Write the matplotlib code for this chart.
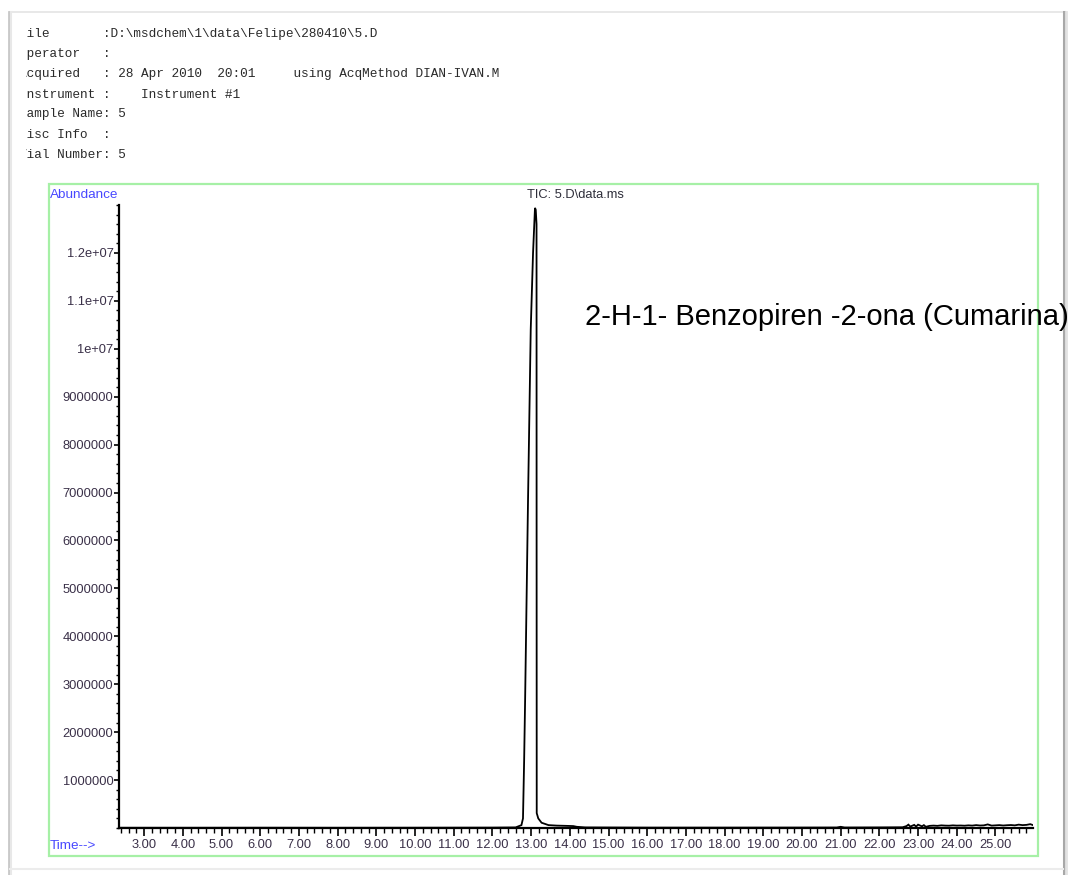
import matplotlib
matplotlib.use("Agg")
import matplotlib.pyplot as plt
from matplotlib import font_manager
from matplotlib.lines import Line2D
from matplotlib.patches import Rectangle
from matplotlib.ticker import FixedLocator, MultipleLocator, NullFormatter

# ---------------- data ----------------
header_lines = [
    "File       :D:\\msdchem\\1\\data\\Felipe\\280410\\5.D",
    "Operator   :",
    "Acquired   : 28 Apr 2010  20:01     using AcqMethod DIAN-IVAN.M",
    "Instrument :    Instrument #1",
    "Sample Name: 5",
    "Misc Info  :",
    "Vial Number: 5",
]

time_min = [2.35, 4.00, 6.00, 8.00, 10.00, 12.00, 12.60, 12.75, 12.79, 12.82,
            12.845, 12.92, 12.99, 13.05, 13.10, 13.12, 13.14, 13.142, 13.145, 13.185,
            13.27, 13.45, 13.66, 13.90, 14.09, 14.18, 14.40, 16.0, 18.0, 20.0,
            20.9, 21.0, 21.1, 22.0, 22.60, 22.70, 22.75, 22.80, 22.90, 22.95,
            23.00, 23.10, 23.15, 23.20, 23.30, 23.40, 23.50, 23.60, 23.70, 23.80,
            23.90, 24.00, 24.10, 24.20, 24.30, 24.40, 24.50, 24.60, 24.70, 24.80,
            24.90, 25.00, 25.10, 25.20, 25.30, 25.40, 25.50, 25.60, 25.70, 25.80,
            25.90, 25.97]
abundance = [5000, 5000, 6000, 5000, 6000, 8000, 12000, 60000, 200000, 1420000,
             2670000, 6830000, 10400000, 12000000, 12940000, 12900000, 12600000, 6000000, 310000, 200000,
             110000, 60000, 50000, 45000, 40000, 25000, 12000, 8000, 8000, 9000,
             10000, 25000, 10000, 12000, 15000, 40000, 70000, 30000, 65000, 30000,
             70000, 35000, 60000, 25000, 45000, 50000, 45000, 55000, 50000, 48000,
             55000, 50000, 52000, 48000, 55000, 50000, 60000, 52000, 55000, 75000,
             50000, 55000, 60000, 52000, 58000, 62000, 55000, 70000, 60000, 65000,
             80000, 60000]

x_major_ticks = list(range(3, 26))
y_tick_values = [1e6, 2e6, 3e6, 4e6, 5e6, 6e6, 7e6, 8e6, 9e6, 1e7, 1.1e7, 1.2e7]
y_tick_labels = ["1000000", "2000000", "3000000", "4000000", "5000000", "6000000",
                 "7000000", "8000000", "9000000", "1e+07", "1.1e+07", "1.2e+07"]

compound_label = "2-H-1- Benzopiren -2-ona (Cumarina)"
tic_title = "TIC: 5.D\\data.ms"

# ---------------- fonts ----------------
names = {f.name for f in font_manager.fontManager.ttflist}
sans = "Liberation Sans Narrow" if "Liberation Sans Narrow" in names else "Liberation Sans"
narrow = sans == "Liberation Sans Narrow"
small_fs = 10.8 if narrow else 9.3
mono = "Liberation Mono" if "Liberation Mono" in names else "DejaVu Sans Mono"

W, H = 1075, 875
fig = plt.figure(figsize=(W / 100, H / 100), dpi=100)
fig.patch.set_facecolor("white")


def fx(x):
    return x / W


def fy(y):
    return 1 - y / H


# ---------------- page edges ----------------
fig.add_artist(Line2D([fx(10), fx(1063)], [fy(12), fy(12)], color="#e4e4e4", lw=1.2))
fig.add_artist(Line2D([fx(9), fx(9)], [fy(12), fy(875)], color="#c8c8c8", lw=2.0))
fig.add_artist(Line2D([fx(11), fx(11)], [fy(12), fy(875)], color="#e8e8e8", lw=1.5))
fig.add_artist(Line2D([fx(1063.5), fx(1063.5)], [fy(12), fy(875)], color="#a8a8a8", lw=2.2))
fig.add_artist(Line2D([fx(1066), fx(1066)], [fy(12), fy(875)], color="#e2e2e2", lw=2.0))
fig.add_artist(Line2D([fx(10), fx(1063)], [fy(869), fy(869)], color="#ececec", lw=1.5))

# ---------------- header text (clipped on the left like the scan) ----------------
hdr = fig.add_axes([fx(25.5), fy(165), fx(1063) - fx(25.5), fy(28) - fy(165)])
hdr.set_xlim(25.5, 1063)
hdr.set_ylim(165, 28)
hdr.axis("off")
for i, line in enumerate(header_lines):
    hdr.text(19.3, 37.5 + 20 * i, line, family=mono, fontsize=9.2, color="#2a2a2a",
             ha="left", va="baseline", clip_on=True)

# ---------------- green frame ----------------
fig.add_artist(Rectangle((fx(49), fy(856)), fx(1038) - fx(49), fy(184) - fy(856),
                         fill=False, edgecolor="#a6f0a6", lw=1.6))

# ---------------- chromatogram axes ----------------
ax = fig.add_axes([fx(119), fy(828), fx(1033) - fx(119), fy(205) - fy(828)])
ax.plot(time_min, abundance, color="black", lw=1.3, solid_joinstyle="miter")
ax.set_xlim(2.35, 25.97)
ax.set_ylim(0, 1.3e7)
for s in ("top", "right"):
    ax.spines[s].set_visible(False)
for s in ("left", "bottom"):
    ax.spines[s].set_linewidth(1.6)
    ax.spines[s].set_color("black")

ax.xaxis.set_major_locator(FixedLocator(x_major_ticks))
ax.set_xticklabels(["%.2f" % v for v in x_major_ticks])
ax.xaxis.set_minor_locator(MultipleLocator(0.2))
ax.yaxis.set_major_locator(FixedLocator(y_tick_values))
ax.set_yticklabels(y_tick_labels)
ax.yaxis.set_minor_locator(MultipleLocator(2e5))
ax.yaxis.set_minor_formatter(NullFormatter())
ax.xaxis.set_minor_formatter(NullFormatter())

lab_color = "#3a3048"
ax.tick_params(axis="x", which="major", direction="out", length=5.5, width=1.2,
               pad=2.5, labelsize=small_fs, labelcolor=lab_color)
ax.tick_params(axis="x", which="minor", direction="out", length=3.5, width=1.0)
ax.tick_params(axis="y", which="major", direction="out", length=3.5, width=1.2,
               pad=0.5, labelsize=small_fs, labelcolor=lab_color)
ax.tick_params(axis="y", which="minor", direction="out", length=2.5, width=1.0)
for t in ax.get_xticklabels() + ax.get_yticklabels():
    t.set_family(sans)

# ---------------- labels ----------------
fig.text(fx(50), fy(195), "Abundance", family=sans, fontsize=small_fs + 0.4,
         color="#4848ff", ha="left", va="center")
fig.text(fx(50), fy(846), "Time-->", family=sans, fontsize=small_fs + 0.4,
         color="#4848ff", ha="left", va="center")
fig.text(fx(575), fy(195), tic_title, family=sans, fontsize=small_fs,
         color="#2e2e3a", ha="center", va="center")
fig.text(fx(585), fy(317), compound_label, family="Liberation Sans", fontsize=21,
         color="black", ha="left", va="center")

fig.savefig("out.png", dpi=100, facecolor="white")
